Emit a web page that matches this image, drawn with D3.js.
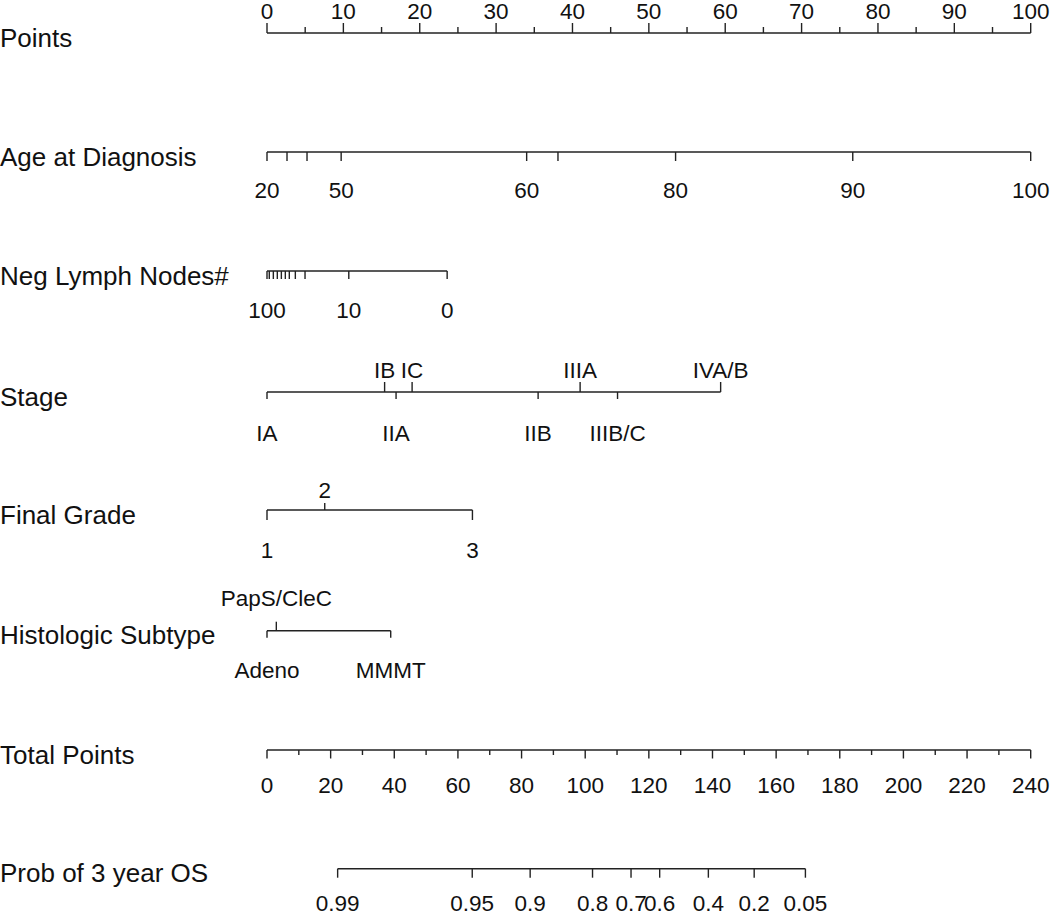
<!DOCTYPE html>
<html><head><meta charset="utf-8">
<script src="https://cdn.jsdelivr.net/npm/d3@7"></script>
<style>body{margin:0;background:#fff}svg{display:block}text{font-family:"Liberation Sans",Arial,sans-serif;fill:#111}</style>
</head><body><svg id="c" width="1050" height="917"></svg>
<script>
// ---- data ----
const variableNames = ["Points","Age at Diagnosis","Neg Lymph Nodes#","Stage","Final Grade","Histologic Subtype","Total Points","Prob of 3 year OS"];
const pointsTicks = [0,10,20,30,40,50,60,70,80,90,100];
const pointsMinorTicks = [5,15,25,35,45,55,65,75,85,95];

const ageValues = [20,30,40,50,60,70,80,90,100];
const agePoints = [0,2.62,5.24,9.71,34.0,38.1,53.5,76.7,100];
const ageShowLabel = [true,false,false,true,true,false,true,true,true];

const nodeValues = [100,90,80,70,60,50,40,30,20,10,0];
const nodePoints = [0,0.30,0.83,1.35,1.88,2.40,2.92,3.71,4.98,10.71,23.59];
const nodeShowLabel = [true,false,false,false,false,false,false,false,false,true,true];

const stageLabels = ["IA","IB","IIA","IC","IIB","IIIA","IIIB/C","IVA/B"];
const stagePoints = [0,15.4,16.9,19.0,35.5,41.0,45.9,59.4];
const stageAbove = [false,true,false,true,false,true,false,true];

const gradeLabels = ["1","2","3"];
const gradePoints = [0,7.56,26.9];
const gradeAbove = [false,true,false];

const histLabels = ["Adeno","PapS/CleC","MMMT"];
const histPoints = [0,1.22,16.2];
const histAbove = [false,true,false];

const totalTicks = [0,20,40,60,80,100,120,140,160,180,200,220,240];
const totalMinorTicks = [10,30,50,70,90,110,130,150,170,190,210,230];

const probLabels = ["0.99","0.95","0.9","0.8","0.7","0.6","0.4","0.2","0.05"];
const probTotalPoints = [22.2,64.5,82.7,102.3,114.4,123.4,138.7,153.1,169.2];

// ---- layout ----
const svg = d3.select("#c");
const xPts = d3.scaleLinear().domain([0,100]).range([267,1030.7]);
const xTot = d3.scaleLinear().domain([0,240]).range([267,1030.7]);
const rowY = [33,152,271,392,510,630.7,750,868.7];
const stroke = "#222", sw = 1.4;
const tickFont = 22.5, varFont = 26;

// variable names
svg.selectAll("text.var").data(variableNames).join("text")
  .attr("class","var").attr("x",0).attr("y",(d,i)=>rowY[i]+13.5)
  .style("font-size",varFont+"px").text(d=>d);

function hline(y,x0,x1){
  svg.append("line").attr("x1",x0).attr("x2",x1).attr("y1",y).attr("y2",y)
    .attr("stroke",stroke).attr("stroke-width",sw);
}
function ticks(y,xs,len){ // len negative = up
  svg.append("g").selectAll("line").data(xs).join("line")
    .attr("x1",d=>d).attr("x2",d=>d).attr("y1",y).attr("y2",y+len)
    .attr("stroke",stroke).attr("stroke-width",sw);
}
function labels(xs,txt,y){
  svg.append("g").selectAll("text").data(xs).join("text")
    .attr("x",d=>d).attr("y",y).attr("text-anchor","middle")
    .style("font-size",tickFont+"px").text((d,i)=>txt[i]);
}

// Points
let y=rowY[0];
hline(y,xPts(0),xPts(100));
ticks(y,pointsTicks.map(xPts),-10);
ticks(y,pointsMinorTicks.map(xPts),-6);
labels(pointsTicks.map(xPts),pointsTicks.map(String),18.5);

// Age
y=rowY[1];
hline(y,xPts(d3.min(agePoints)),xPts(d3.max(agePoints)));
ticks(y,agePoints.map(xPts),9);
{const idx=ageValues.map((d,i)=>i).filter(i=>ageShowLabel[i]);
 labels(idx.map(i=>xPts(agePoints[i])),idx.map(i=>String(ageValues[i])),198);}

// Neg lymph nodes
y=rowY[2];
hline(y,xPts(d3.min(nodePoints)),xPts(d3.max(nodePoints)));
ticks(y,nodePoints.map(xPts),8);
{const idx=nodeValues.map((d,i)=>i).filter(i=>nodeShowLabel[i]);
 labels(idx.map(i=>xPts(nodePoints[i])),idx.map(i=>String(nodeValues[i])),318);}

// categorical rows
function catRow(y,lab,pts,above,upLen,downLen,yAbove,yBelow){
  hline(y,xPts(d3.min(pts)),xPts(d3.max(pts)));
  const up=pts.map((d,i)=>i).filter(i=>above[i]);
  const dn=pts.map((d,i)=>i).filter(i=>!above[i]);
  ticks(y,up.map(i=>xPts(pts[i])),-upLen);
  ticks(y,dn.map(i=>xPts(pts[i])),downLen);
  labels(up.map(i=>xPts(pts[i])),up.map(i=>lab[i]),yAbove);
  labels(dn.map(i=>xPts(pts[i])),dn.map(i=>lab[i]),yBelow);
}
catRow(rowY[3],stageLabels,stagePoints,stageAbove,10,7,377.5,441);
catRow(rowY[4],gradeLabels,gradePoints,gradeAbove,7,10,498,558);
catRow(rowY[5],histLabels,histPoints,histAbove,9,7,606,678);

// Total points
y=rowY[6];
hline(y,xTot(0),xTot(240));
ticks(y,totalTicks.map(xTot),8.5);
ticks(y,totalMinorTicks.map(xTot),5);
labels(totalTicks.map(xTot),totalTicks.map(String),793);

// Probability
y=rowY[7];
hline(y,xTot(d3.min(probTotalPoints)),xTot(d3.max(probTotalPoints)));
ticks(y,probTotalPoints.map(xTot),9);
labels(probTotalPoints.map(xTot),probLabels,911);
</script></body></html>
